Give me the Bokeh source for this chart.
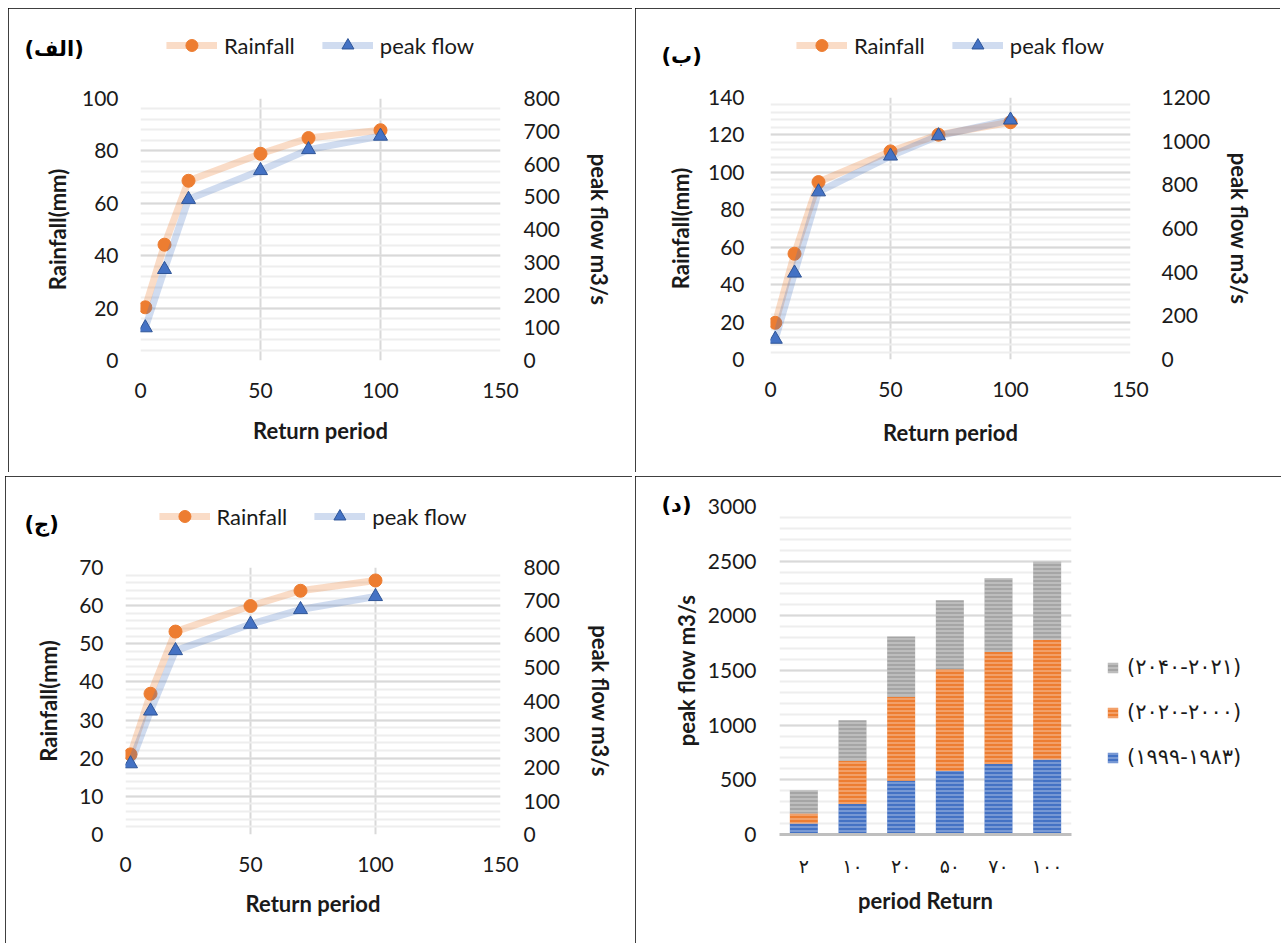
from bokeh.plotting import figure
from bokeh.models import (Range1d, LinearAxis, SingleIntervalTicker, Legend, LegendItem,
                          Title, FactorRange, ColumnDataSource)
from bokeh.layouts import column, row
from bokeh.embed import file_html
from bokeh.resources import INLINE

# ---------------- data ----------------
return_period = [2, 10, 20, 50, 70, 100]

rain_a = [20.3, 44.2, 68.6, 78.9, 84.9, 87.9]
flow_a = [100, 278, 492, 580, 644, 685]

rain_b = [19.6, 56.5, 94.8, 111.2, 120.1, 126.8]
flow_b = [93, 396, 768, 932, 1025, 1097]

rain_c = [21.0, 36.9, 53.2, 59.9, 63.9, 66.6]
flow_c = [212, 370, 551, 630, 674, 713]

bar_categories = ["۲", "۱۰", "۲۰", "۵۰", "۷۰", "۱۰۰"]
bar_series_names = ["(۱۹۹۹-۱۹۸۳)", "(۲۰۲۰-۲۰۰۰)", "(۲۰۴۰-۲۰۲۱)"]

panel_tags = ["(الف)", "(ب)", "(ج)", "(د)"]

# ---------------- style ----------------
FONT = "Lato"
AR_FONT = "DejaVu Sans"
TXT = "#1a1a1a"
ORANGE = "#ED7D31"
BLUE = "#4472C4"
GRAY = "#A5A5A5"
MAJOR = "#D9D9D9"
MINOR = "#EEEEEE"


def tag_title(text, offset, standoff):
    return Title(text=text, align="left", offset=offset, vertical_align="top",
                 standoff=standoff, text_font=AR_FONT, text_font_style="bold",
                 text_font_size="21px", text_color="black")


def style_axis(ax, tick_standoff, label_standoff):
    ax.axis_line_color = None
    ax.major_tick_line_color = None
    ax.minor_tick_line_color = None
    ax.major_label_text_font = FONT
    ax.major_label_text_font_size = "21px"
    ax.major_label_text_color = TXT
    ax.major_label_standoff = tick_standoff
    ax.axis_label_text_font = FONT
    ax.axis_label_text_font_style = "bold"
    ax.axis_label_text_font_size = "22px"
    ax.axis_label_text_color = TXT
    ax.axis_label_standoff = label_standoff


def style_grid(p):
    p.ygrid.grid_line_color = MAJOR
    p.ygrid.grid_line_width = 2
    p.ygrid.minor_grid_line_color = MINOR
    p.ygrid.minor_grid_line_width = 2


def line_panel(rain, flow, ymax, ystep, y2max, y2step,
               bl, fw, br, bt, fh, bb, stand, leg_margin,
               tag, tag_offset, tag_standoff, margin, border="1px"):
    p = figure(frame_width=fw, frame_height=fh,
               min_border_left=bl, min_border_right=br,
               min_border_top=bt, min_border_bottom=bb, title_location=None,
               x_range=Range1d(0, 150), y_range=Range1d(0, ymax),
               output_backend="svg", toolbar_location=None)
    p.margin = margin
    p.outline_line_color = None
    p.styles = {"outline": f"{border} solid black", "outline-offset": f"-{border}"}

    p.xaxis.ticker = SingleIntervalTicker(interval=50, num_minor_ticks=0)
    p.yaxis.ticker = SingleIntervalTicker(interval=ystep, num_minor_ticks=5)
    style_axis(p.xaxis[0], 16, stand[0])
    style_axis(p.yaxis[0], stand[1], stand[2])
    p.xaxis.axis_label = "Return period"
    p.yaxis.axis_label = "Rainfall(mm)"
    p.xgrid.grid_line_color = MAJOR
    p.xgrid.grid_line_width = 2
    style_grid(p)

    p.extra_y_ranges = {"flow": Range1d(0, y2max)}
    ax2 = LinearAxis(y_range_name="flow",
                     ticker=SingleIntervalTicker(interval=y2step, num_minor_ticks=0),
                     axis_label="peak flow m3/s")
    style_axis(ax2, stand[3], stand[4])
    p.add_layout(ax2, "right")

    r1 = p.line(return_period, rain, line_color=ORANGE, line_alpha=0.27, line_width=7,
                line_join="round")
    r2 = p.scatter(return_period, rain, marker="circle", size=13, fill_color=ORANGE,
                   line_color=ORANGE)
    r3 = p.line(return_period, flow, y_range_name="flow", line_color=BLUE, line_alpha=0.25,
                line_width=7, line_join="round")
    r4 = p.scatter(return_period, flow, y_range_name="flow", marker="triangle", size=14,
                   fill_color=BLUE, line_color="#2F5597")

    # tag first (inner), legend second (outer, at the very top)
    p.add_layout(tag_title(tag, tag_offset, tag_standoff), "above")
    leg = Legend(items=[LegendItem(label="Rainfall", renderers=[r1, r2]),
                        LegendItem(label="peak flow", renderers=[r3, r4])],
                 orientation="horizontal", location="top",
                 border_line_color=None, background_fill_alpha=0,
                 glyph_width=51, glyph_height=30, label_standoff=7, spacing=27,
                 padding=0, margin=leg_margin,
                 label_text_font=FONT, label_text_font_size="22px", label_text_color=TXT)
    p.add_layout(leg, "above")
    return column(p)


# stand = (x_title, left_tick, left_title, right_tick, right_title) standoffs
c1 = line_panel(rain_a, flow_a, 100, 20, 800, 100,
                132, 360, 132, 90, 262, 112, (16, 16, 8, 17, 23), 22,
                panel_tags[0], -116, -124, (8, 0, 0, 8))
c2 = line_panel(rain_b, flow_b, 140, 20, 1200, 200,
                135, 360, 150, 89, 262, 113, (19, 20, 11, 25, 13), 22,
                panel_tags[1], -109, -108, (8, 0, 0, 3))
c3 = line_panel(rain_c, flow_c, 70, 10, 800, 100,
                120, 375, 132, 91, 267, 109, (15, 16, 14, 17, 24), 25,
                panel_tags[2], -101, -112, (4, 0, 0, 5), border="2px")

# ---------------- stacked bar panel ----------------
src = ColumnDataSource(dict(cat=bar_categories, s1=flow_a, s2=flow_b, s3=flow_c))
p4 = figure(frame_width=292, frame_height=328,
            min_border_left=144, min_border_right=209, min_border_top=30, min_border_bottom=109,
            title_location=None,
            x_range=FactorRange(factors=bar_categories, range_padding=0),
            y_range=Range1d(0, 3000),
            output_backend="svg", toolbar_location=None)
p4.margin = (4, 0, 0, 3)
p4.outline_line_color = None
p4.styles = {"outline": "1px solid black", "outline-offset": "-1px"}
bars = p4.vbar_stack(["s1", "s2", "s3"], x="cat", width=0.575, source=src,
                     color=[BLUE, ORANGE, GRAY], line_color=None,
                     hatch_pattern="horizontal_line", hatch_color="white",
                     hatch_alpha=0.45, hatch_scale=4, hatch_weight=1.2)
p4.yaxis.ticker = SingleIntervalTicker(interval=500, num_minor_ticks=5)
style_axis(p4.yaxis[0], 17, 5)
style_axis(p4.xaxis[0], 14, 7)
p4.xaxis.axis_line_color = "#BFBFBF"
p4.xaxis.axis_line_width = 3
p4.xaxis.major_label_text_font = AR_FONT
p4.xaxis.major_label_text_font_size = "19px"
p4.yaxis.axis_label = "peak flow m3/s"
p4.xaxis.axis_label = "period Return"
p4.xgrid.grid_line_color = None
style_grid(p4)

# tag (inner) and an empty spacer title (outer)
p4.add_layout(tag_title(panel_tags[3], -118, -28), "above")
p4.add_layout(Title(text=" ", standoff=2, text_font=AR_FONT, text_font_size="22px"), "above")

leg4 = Legend(items=[LegendItem(label=bar_series_names[i], renderers=[bars[i]])
                     for i in (2, 1, 0)],
              location="top_left", margin=35, padding=0,
              title=" ", title_text_font_size="1px", title_standoff=113,
              border_line_color=None, background_fill_alpha=0,
              glyph_width=13, glyph_height=13, label_standoff=8, spacing=21, label_height=24,
              label_text_font=AR_FONT, label_text_font_size="21px", label_text_color=TXT)
p4.add_layout(leg4, "right")
c4 = column(p4)

layout = column(row(c1, c2), row(c3, c4))
open("out.html", "w").write(file_html(layout, INLINE))
